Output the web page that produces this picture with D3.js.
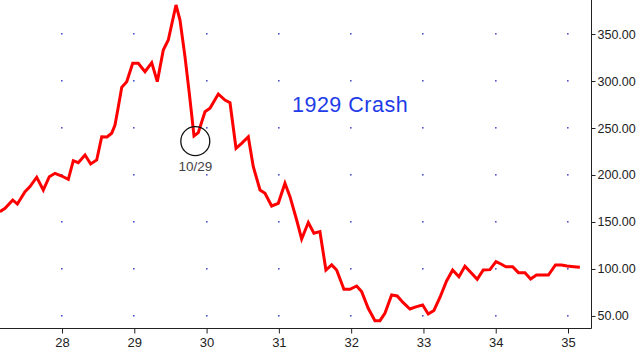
<!DOCTYPE html>
<html>
<head>
<meta charset="utf-8">
<script src="https://cdn.jsdelivr.net/npm/d3@7"></script>
<style>
  body { margin: 0; background: #fff; }
  svg { display: block; font-family: Arial, "Liberation Sans", sans-serif; }
  .axis text { fill: #222; }
  .axis path, .axis line { stroke: #222; }
</style>
</head>
<body>
<svg id="chart"></svg>
<script>
// Dow Jones, 1927 - 1935 (year as 2-digit decimal)
const years = [27.140, 27.212, 27.318, 27.382, 27.488, 27.557, 27.650, 27.741, 27.824, 27.903,
  27.996, 28.087, 28.156, 28.225, 28.318, 28.397, 28.480, 28.549, 28.622, 28.687,
  28.733, 28.779, 28.826, 28.895, 28.978, 29.055, 29.148, 29.241, 29.318, 29.401,
  29.470, 29.577, 29.632, 29.701, 29.761, 29.826, 29.885, 29.978, 30.047, 30.162,
  30.254, 30.324, 30.407, 30.485, 30.577, 30.646, 30.739, 30.808, 30.900, 30.992,
  31.084, 31.154, 31.246, 31.315, 31.407, 31.485, 31.568, 31.651, 31.730, 31.799,
  31.900, 31.983, 32.076, 32.145, 32.236, 32.329, 32.398, 32.467, 32.560, 32.637,
  32.720, 32.813, 32.906, 32.989, 33.066, 33.145, 33.228, 33.320, 33.404, 33.491,
  33.574, 33.666, 33.744, 33.827, 33.920, 34.003, 34.072, 34.141, 34.234, 34.314,
  34.404, 34.483, 34.563, 34.639, 34.729, 34.826, 34.911, 34.985, 35.081, 35.164];
const closes = [161.0, 164.6, 173.4, 169.1, 182.2, 187.6, 197.6, 184.0, 198.2, 201.8,
  198.9, 195.4, 215.2, 213.1, 221.3, 211.7, 216.0, 240.7, 240.4, 244.4,
  253.2, 272.7, 293.3, 299.3, 318.8, 318.8, 309.9, 319.5, 299.3, 333.0,
  343.6, 380.9, 364.9, 325.9, 286.9, 241.5, 245.0, 267.3, 271.0, 286.2,
  279.8, 276.9, 228.4, 233.7, 240.7, 208.8, 184.0, 180.5, 167.0, 169.9,
  191.2, 176.9, 152.1, 131.9, 149.5, 138.0, 139.7, 98.9, 104.3, 98.9,
  78.4, 78.4, 81.9, 75.9, 58.2, 45.0, 45.0, 52.9, 72.3, 71.3,
  64.1, 57.4, 59.9, 61.7, 52.1, 55.9, 69.7, 87.2, 98.9, 91.8,
  102.9, 95.4, 89.0, 98.9, 99.3, 107.8, 105.3, 102.4, 102.4, 96.1,
  96.1, 89.4, 93.6, 93.6, 93.6, 104.3, 104.3, 103.2, 102.4, 101.8];

const xTicks = [28, 29, 30, 31, 32, 33, 34, 35];
const yTicks = [50, 100, 150, 200, 250, 300, 350];

const title = "1929 Crash";
const marker = {year: 29.83, value: 236, label: "10/29"};

const width = 640, height = 353;
const plotW = 591, plotH = 328;

const svg = d3.select("#chart")
    .attr("width", width)
    .attr("height", height);

const xScale = d3.scaleLinear()
    .domain([27.142, 35.318])
    .range([0, plotW]);

const yScale = d3.scaleLinear()
    .domain([37.2, 386.2])
    .range([plotH, 0]);

// grid dots at tick crossings
const gridPts = [];
xTicks.forEach(x => yTicks.forEach(y => gridPts.push({x, y})));
svg.append("g")
  .selectAll("rect")
  .data(gridPts)
  .join("rect")
    .attr("x", d => Math.round(xScale(d.x)) - 1)
    .attr("y", d => Math.round(yScale(d.y)) - 1)
    .attr("width", 1.6)
    .attr("height", 1.6)
    .attr("fill", "#5555cc");

svg.append("clipPath")
    .attr("id", "clip")
  .append("rect")
    .attr("width", plotW)
    .attr("height", plotH);

const data = years.map((y, i) => ({year: y, value: closes[i]}));

const line = d3.line()
    .x(d => xScale(d.year))
    .y(d => yScale(d.value));

svg.append("path")
    .datum(data)
    .attr("clip-path", "url(#clip)")
    .attr("fill", "none")
    .attr("stroke", "#ff0000")
    .attr("stroke-width", 3)
    .attr("stroke-linejoin", "miter")
    .attr("d", line);

// axes
const xAxis = d3.axisBottom(xScale)
    .tickValues(xTicks)
    .tickFormat(d3.format("d"))
    .tickSizeOuter(0)
    .tickSize(5)
    .tickPadding(4);

const yAxis = d3.axisRight(yScale)
    .tickValues(yTicks)
    .tickFormat(d3.format(".2f"))
    .tickSizeOuter(0)
    .tickSize(4)
    .tickPadding(2);

svg.append("g")
    .attr("class", "axis x-axis")
    .attr("transform", `translate(0,${plotH + 0.5})`)
    .call(xAxis)
    .call(g => g.selectAll("text").attr("font-size", 13).attr("font-family", null))
    .call(g => g.select(".domain").attr("d", `M0,0H${plotW + 0.5}`));

svg.append("g")
    .attr("class", "axis y-axis")
    .attr("transform", `translate(${plotW + 0.5},0)`)
    .call(yAxis)
    .call(g => g.selectAll("text").attr("font-size", 12.5).attr("font-family", null))
    .call(g => g.select(".domain").attr("d", `M0,0V${plotH + 0.5}`));

// title
svg.append("text")
    .attr("x", 292)
    .attr("y", 112)
    .attr("fill", "#1e3ce8")
    .attr("font-size", 21.5)
    .attr("letter-spacing", 0.5)
    .text(title);

// 10/29 marker
svg.append("circle")
    .attr("cx", xScale(marker.year) + 1)
    .attr("cy", yScale(marker.value))
    .attr("r", 14.5)
    .attr("fill", "none")
    .attr("stroke", "#111")
    .attr("stroke-width", 1.3);

svg.append("text")
    .attr("x", xScale(marker.year) + 1)
    .attr("y", yScale(marker.value) + 30)
    .attr("text-anchor", "middle")
    .attr("fill", "#444")
    .attr("font-size", 13.5)
    .text(marker.label);
</script>
</body>
</html>
